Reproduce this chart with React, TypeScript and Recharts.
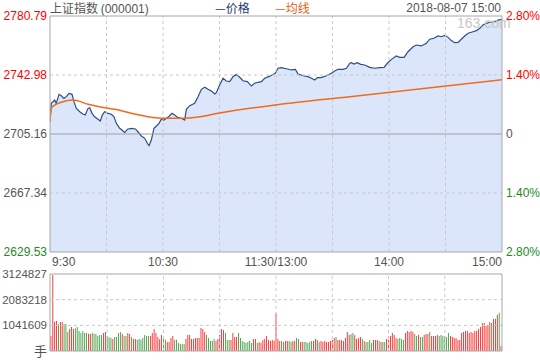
import { ComposedChart, BarChart, Bar, Cell, Area, Line, XAxis, YAxis, ReferenceLine } from 'recharts';

// minutes since 9:30 (11:30 and 13:00 share minute 120)
const priceMin = [
  0, 0.7, 2.5, 3.3, 4.8, 6, 7.4, 8.7, 10.1, 11.7, 12.7, 14, 15.8, 17.5, 18.7, 20.2, 21.1, 22.3, 23.7, 25.5,
  26.7, 27.8, 29, 30.8, 32.6, 34, 35.2, 37, 38.2, 39.7, 41.1, 43.2, 45.3, 46.7, 48.5, 50.3, 51.7, 52.6, 53.8, 55.2,
  56.5, 57.9, 59.1, 60.5, 61.8, 63, 64.8, 66.2, 68, 69.7, 71.5, 72.4, 74.2, 76.8, 78.6, 80.4, 82.2, 83.9, 85.7, 87.5,
  88.3, 90.1, 91.9, 93.6, 95.4, 97.2, 98.9, 100.7, 102.5, 104.8, 106.9, 108.7, 110.5, 112.2, 114, 116.1, 117.9, 119.6, 121.1, 122.8,
  125.5, 128.1, 130.3, 131.7, 134.4, 137, 138.8, 140.6, 142, 143.8, 145.5, 147.6, 149.4, 151.2, 152.9, 155.6, 157.4, 159.2, 160, 161.4,
  163.2, 165, 167.1, 169.8, 172.4, 175.1, 177.4, 179.1, 181.3, 183.9, 185.7, 188, 190.1, 192.8, 194.5, 197.2, 199.8, 201.6, 203.9, 206,
  207.8, 209.6, 211.4, 213.1, 214.9, 216.7, 218.4, 220.2, 222, 224.6, 226.4, 228.2, 229.9, 231.7, 233.5, 236.2, 237.9, 240,
];
const priceVal = [
  2713.0, 2724.8, 2726.9, 2724.8, 2730.6, 2729.7, 2728.0, 2729.1, 2731.2, 2730.6, 2725.9, 2721.6, 2719.4, 2718.0, 2717.3, 2721.6, 2722.0, 2718.4, 2716.2, 2714.6,
  2713.5, 2717.3, 2719.4, 2718.4, 2717.8, 2716.2, 2712.0, 2708.8, 2707.7, 2706.0, 2708.2, 2708.8, 2708.4, 2706.6, 2703.9, 2702.4, 2699.2, 2697.7, 2701.3, 2708.8,
  2710.3, 2712.0, 2714.6, 2714.1, 2715.2, 2716.2, 2718.4, 2717.3, 2715.6, 2715.2, 2714.1, 2721.0, 2723.3, 2724.8, 2729.1, 2733.8, 2735.1, 2733.8, 2732.7, 2730.8,
  2731.6, 2736.6, 2740.9, 2739.1, 2738.7, 2741.9, 2743.4, 2741.5, 2739.3, 2738.7, 2735.9, 2737.7, 2738.3, 2738.7, 2740.9, 2741.9, 2743.0, 2744.1, 2747.3, 2747.7,
  2747.0, 2746.2, 2746.6, 2743.6, 2742.5, 2741.9, 2740.9, 2739.8, 2741.3, 2741.3, 2741.9, 2743.0, 2744.1, 2745.5, 2746.6, 2746.6, 2747.3, 2750.5, 2750.9, 2750.0,
  2750.9, 2749.8, 2749.4, 2747.9, 2747.3, 2747.7, 2747.9, 2750.5, 2753.0, 2755.2, 2754.3, 2754.3, 2757.9, 2761.1, 2762.2, 2761.6, 2763.3, 2765.9, 2766.5, 2768.0,
  2767.5, 2768.4, 2767.1, 2765.0, 2763.7, 2763.9, 2765.9, 2768.0, 2769.7, 2770.7, 2771.4, 2772.9, 2775.0, 2776.1, 2776.8, 2777.1, 2778.2, 2778.7,
];
const avgMin = [0, 0.7, 2.5, 6, 12.2, 20.2, 29, 34.4, 43.2, 53.8, 59.1, 69.7, 79.5, 89.2, 119.3, 159.2, 240];
const avgVal = [2712.9, 2721.6, 2723.7, 2725.5, 2727.0, 2724.2, 2722.0, 2721.0, 2718.4, 2715.9, 2715.2, 2715.2, 2716.2, 2718.4, 2723.7, 2729.1, 2739.9];

const priceTicks = [2629.53, 2667.34, 2705.16, 2742.98, 2780.79];
const pctTicks = [-2.8, -1.4, 0, 1.4, 2.8];
const timeTicks = [0, 60, 120, 180, 240];
const timeLabels = ['9:30', '10:30', '11:30/13:00', '14:00', '15:00'];
const gridMinutes = [30, 60, 90, 120, 150, 180, 210];

// volume per minute (手)
const volumes = [
  609, 3084, 1190, 1218, 1096, 1177, 1177, 1096, 1096, 771, 893, 974, 893, 920, 974, 812, 731, 812, 731, 744,
  703, 690, 744, 703, 690, 609, 649, 649, 731, 771, 609, 568, 528, 487, 568, 568, 731, 771, 690, 609,
  609, 731, 690, 568, 487, 487, 460, 487, 460, 528, 649, 609, 609, 609, 731, 893, 731, 568, 473, 649,
  528, 460, 365, 365, 528, 609, 460, 460, 325, 284, 284, 284, 487, 649, 649, 487, 487, 528, 528, 528,
  933, 893, 771, 649, 528, 406, 406, 487, 406, 487, 649, 893, 852, 731, 446, 446, 446, 731, 568, 568,
  731, 528, 406, 365, 325, 365, 406, 325, 487, 487, 325, 365, 325, 446, 487, 609, 446, 406, 446, 406,
  1529, 487, 406, 406, 365, 406, 406, 406, 365, 406, 406, 528, 487, 365, 365, 365, 365, 325, 365, 406,
  406, 487, 446, 365, 406, 365, 406, 365, 365, 406, 446, 528, 568, 446, 446, 446, 406, 528, 771, 649,
  690, 731, 649, 487, 528, 568, 487, 406, 365, 365, 446, 325, 446, 446, 446, 406, 365, 365, 365, 487,
  446, 609, 731, 649, 528, 487, 528, 487, 446, 731, 812, 771, 812, 771, 690, 609, 649, 568, 568, 649,
  690, 690, 771, 609, 609, 609, 649, 609, 649, 609, 609, 568, 731, 609, 568, 528, 528, 446, 446, 731,
  771, 812, 812, 731, 771, 731, 812, 812, 893, 974, 1136, 1136, 1015, 1055, 1177, 1136, 1299, 1299, 1461, 1556,
  203,
].map((v) => v * 1000);
// r = up minute, g = down minute, ten minutes per chunk
const volDir = [
  'rrrrgrrggg', 'rrrggggggg', 'rrggggggrr', 'gggrggggrg', 'grrgrrgggg', 'gggrrrrrrr',
  'ggrrrrgggg', 'ggrrrrrrrr', 'rrrgggggrr', 'rrrgggrrrr', 'ggggggggrr', 'grrrrrrrrr',
  'rrrggrrggr', 'rggrrggggg', 'rrrgrrrrrr', 'rrgrrrrrrr', 'ggrrrrgrgg', 'ggrrrgrggr',
  'rrrrrggggr', 'rrrrggrggr', 'rrgrrrrggg', 'gggrrrrrrr', 'rrrrrrrrrr', 'rrrrrgrrrg', 'r',
].join('');
const volTicks = [0, 1041609, 2083218, 3124827];

const RED = '#ff0000';
const GREEN = '#1f8a1f';
const GRAY = '#555555';
const GRID = '#c8c8c8';
const BORDER = '#a8a8a8';
const NUM_FONT = '"Liberation Sans", Arial, sans-serif';
const CJK_FONT = '"Noto Sans CJK SC", sans-serif';

const rows = [
  ...priceMin.map((m, i) => ({ m, price: priceVal[i] })),
  ...avgMin.map((m, i) => ({ m, avg: avgVal[i] })),
].sort((a, b) => a.m - b.m);

const volData = volumes.map((v, i) => ({ i, v, up: volDir[i] !== 'g' }));

function PriceTick({ x, y, payload }: any) {
  const v = payload.value;
  const fill = v > 2705.17 ? RED : v < 2650 ? GREEN : GRAY;
  return (
    <text x={x} y={y} dy={4} textAnchor="end" fill={fill} fontSize={12} fontFamily={NUM_FONT}>
      {v.toFixed(2)}
    </text>
  );
}

function PctTick({ x, y, payload }: any) {
  const v = payload.value;
  const fill = v > 0 ? RED : v < 0 ? GREEN : GRAY;
  const label = v === 0 ? '0' : `${Math.abs(v).toFixed(2)}%`;
  return (
    <text x={x} y={y} dy={4} textAnchor="start" fill={fill} fontSize={12} fontFamily={NUM_FONT}>
      {label}
    </text>
  );
}

function TimeTick({ x, y, payload }: any) {
  const idx = timeTicks.indexOf(payload.value);
  const anchor = idx === 0 ? 'start' : idx === timeTicks.length - 1 ? 'end' : 'middle';
  return (
    <text x={x + (idx === 0 ? 2 : 0)} y={y} dy={11.5} textAnchor={anchor} fill={GRAY} fontSize={12} fontFamily={NUM_FONT}>
      {timeLabels[idx]}
    </text>
  );
}

function VolTick({ x, y, payload }: any) {
  if (payload.value === 0) {
    return (
      <text x={x} y={y} dy={5} textAnchor="end" fill={GRAY} fontSize={13} fontFamily={CJK_FONT}>
        手
      </text>
    );
  }
  return (
    <text x={x} y={y} dy={4} textAnchor="end" fill={GRAY} fontSize={11.5} fontFamily={NUM_FONT}>
      {payload.value}
    </text>
  );
}

const headStyle = { position: 'absolute' as const, top: 1, fontSize: 12, lineHeight: '14px', whiteSpace: 'nowrap' as const };

export default function App() {
  return (
    <div style={{ position: 'absolute', left: 0, top: 0, width: 540, height: 360, background: '#fff', overflow: 'hidden' }}>
      <div style={{ ...headStyle, left: 50, color: GRAY, fontFamily: CJK_FONT }}>
        上证指数 <span style={{ fontFamily: NUM_FONT }}>(000001)</span>
      </div>
      <div style={{ ...headStyle, left: 215, color: '#1e3a6e', fontFamily: CJK_FONT }}>—价格</div>
      <div style={{ ...headStyle, left: 275, color: '#e8600e', fontFamily: CJK_FONT }}>—均线</div>
      <div style={{ ...headStyle, right: 39, color: GRAY, fontFamily: NUM_FONT }}>2018-08-07 15:00</div>

      <div style={{ position: 'absolute', left: 0, top: 0 }}>
        <ComposedChart width={540} height={275} data={rows} margin={{ top: 16, right: 0, left: 0, bottom: 0 }}>
          <XAxis
            dataKey="m"
            type="number"
            domain={[0, 240]}
            ticks={timeTicks}
            tick={<TimeTick />}
            tickLine={false}
            tickSize={0}
            height={23}
            axisLine={{ stroke: BORDER }}
            allowDataOverflow
          />
          <YAxis
            yAxisId="p"
            domain={[priceTicks[0], priceTicks[priceTicks.length - 1]]}
            ticks={priceTicks}
            tick={<PriceTick />}
            tickLine={false}
            tickSize={0}
            tickMargin={3}
            width={50}
            axisLine={{ stroke: BORDER }}
            allowDataOverflow
          />
          <YAxis
            yAxisId="pct"
            orientation="right"
            type="number"
            domain={[-2.8, 2.8]}
            ticks={pctTicks}
            tick={<PctTick />}
            tickLine={false}
            tickSize={0}
            tickMargin={4}
            width={38}
            axisLine={{ stroke: BORDER }}
            allowDataOverflow
          />
          {gridMinutes.map((m) => (
            <ReferenceLine key={m} x={m} yAxisId="p" stroke={GRID} strokeDasharray="3 3" />
          ))}
          <ReferenceLine y={2742.98} yAxisId="p" stroke={GRID} strokeDasharray="3 3" />
          <ReferenceLine y={2667.34} yAxisId="p" stroke={GRID} strokeDasharray="3 3" />
          <ReferenceLine y={0} yAxisId="pct" stroke="none" />
          <Area
            yAxisId="p"
            type="linear"
            dataKey="price"
            stroke="#2c4f85"
            strokeWidth={1.2}
            fill="#dbe6fa"
            fillOpacity={1}
            baseValue="dataMin"
            connectNulls
            dot={false}
            activeDot={false}
            isAnimationActive={false}
          />
          <ReferenceLine y={2705.16} yAxisId="p" stroke="#a0a0a0" />
          <ReferenceLine y={2780.79} yAxisId="p" stroke={BORDER} />
          <Line
            yAxisId="p"
            type="monotone"
            dataKey="avg"
            stroke="#f06a1e"
            strokeWidth={1.5}
            connectNulls
            dot={false}
            activeDot={false}
            isAnimationActive={false}
          />
        </ComposedChart>
      </div>

      <div style={{ position: 'absolute', left: 457, top: 15, fontSize: 14, color: '#c8c8c8', fontFamily: NUM_FONT }}>163.com</div>

      <div style={{ position: 'absolute', left: 0, top: 262 }}>
        <BarChart width={540} height={98} data={volData} margin={{ top: 12, right: 0, left: 0, bottom: 9 }} barCategoryGap="30%">
          <XAxis dataKey="i" hide />
          <YAxis
            domain={[0, volTicks[volTicks.length - 1]]}
            ticks={volTicks}
            tick={<VolTick />}
            tickLine={false}
            tickSize={0}
            tickMargin={3}
            width={50}
            axisLine={{ stroke: BORDER }}
            allowDataOverflow
          />
          <YAxis
            yAxisId="r"
            orientation="right"
            type="number"
            domain={[0, 1]}
            width={38}
            tick={false}
            tickLine={false}
            axisLine={{ stroke: BORDER }}
            allowDataOverflow
          />
          <ReferenceLine y={0.5} yAxisId="r" stroke="none" />
          {gridMinutes.map((m) => (
            <ReferenceLine key={m} x={m} stroke={GRID} strokeDasharray="3 3" />
          ))}
          <ReferenceLine y={1041609} stroke={GRID} strokeDasharray="3 3" />
          <ReferenceLine y={2083218} stroke={GRID} strokeDasharray="3 3" />
          <ReferenceLine y={volTicks[volTicks.length - 1]} stroke={BORDER} />
          <Bar dataKey="v" isAnimationActive={false}>
            {volData.map((d) => (
              <Cell key={d.i} fill={d.up ? RED : GREEN} />
            ))}
          </Bar>
          <ReferenceLine y={0} stroke={BORDER} />
        </BarChart>
      </div>
    </div>
  );
}
